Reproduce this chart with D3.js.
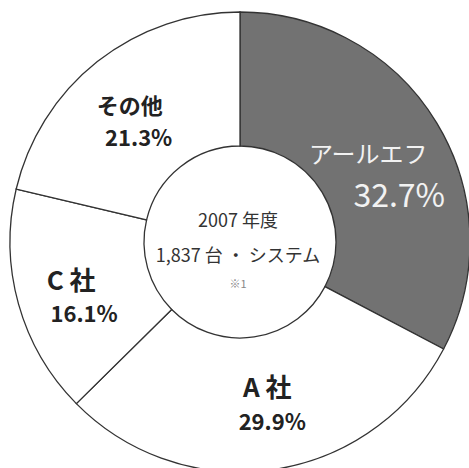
<!DOCTYPE html>
<html>
<head>
<meta charset="utf-8">
<script src="https://cdn.jsdelivr.net/npm/d3@7"></script>
<style>
  body { margin: 0; background: #fff; }
  text { font-family: "Noto Sans CJK JP", "Noto Sans", sans-serif; }
</style>
</head>
<body>
<div id="chart"></div>
<script>
// Data
const categories = ["アールエフ", "A 社", "C 社", "その他"];
const shares = [32.7, 29.9, 16.1, 21.3];
const centerLines = ["2007 年度", "1,837 台 ・ システム", "※1"];

// Colors
const fills = ["#727272", "#ffffff", "#ffffff", "#ffffff"];
const labelColors = ["#f2f2f2", "#222", "#222", "#222"];

// Label tweaks relative to the label arc centroid: [name dx, name dy, pct dx, pct dy]
const labelOffsets = [
  [-13, 6, 18, 50],
  [3, -8, 8, 25],
  [-10, 3, 3, 35],
  [-8, 1, 1, 33]
];
const nameSizes = [24, 26, 26, 22];
const pctSizes = [32, 22, 22, 22];

const WIDTH = 469;
const HEIGHT = 468;
const CX = 240;
const CY = 242;
const OUTER = 230;
const INNER = 96;

const svg = d3
  .select("#chart")
  .append("svg")
  .attr("width", WIDTH)
  .attr("height", HEIGHT);

const g = svg.append("g").attr("transform", `translate(${CX}, ${CY})`);

const rows = categories.map((c, i) => ({ name: c, value: shares[i], i: i }));

const pie = d3
  .pie()
  .sort(null)
  .value((d) => d.value);

const arc = d3.arc().innerRadius(INNER).outerRadius(OUTER);
const labelArc = d3.arc().innerRadius(165).outerRadius(165);

const arcs = pie(rows);

// Wedges
g.selectAll("path.slice")
  .data(arcs)
  .enter()
  .append("path")
  .attr("class", "slice")
  .attr("d", arc)
  .attr("fill", (d) => fills[d.data.i])
  .attr("stroke", "#333")
  .attr("stroke-width", 1.3);

// Labels
arcs.forEach((d) => {
  const [x, y] = labelArc.centroid(d);
  const off = labelOffsets[d.data.i];
  const dark = d.data.i === 0;

  g.append("text")
    .attr("x", x + off[0])
    .attr("y", y + off[1])
    .attr("text-anchor", "middle")
    .attr("font-size", nameSizes[d.data.i] + "px")
    .attr("font-weight", dark ? 400 : 700)
    .attr("fill", labelColors[d.data.i])
    .text(d.data.name);

  g.append("text")
    .attr("x", x + off[2])
    .attr("y", y + off[3])
    .attr("text-anchor", "middle")
    .attr("font-size", pctSizes[d.data.i] + "px")
    .attr("font-weight", dark ? 400 : 700)
    .attr("fill", labelColors[d.data.i])
    .text(d.data.value.toFixed(1) + "%");
});

// Center text
const centerY = [-15, 20, 46];
const centerSize = [18, 18, 11];
centerLines.forEach((t, i) => {
  g.append("text")
    .attr("x", -2)
    .attr("y", centerY[i])
    .attr("text-anchor", "middle")
    .attr("font-size", centerSize[i] + "px")
    .attr("fill", i === 2 ? "#888" : "#333")
    .text(t);
});
</script>
</body>
</html>
